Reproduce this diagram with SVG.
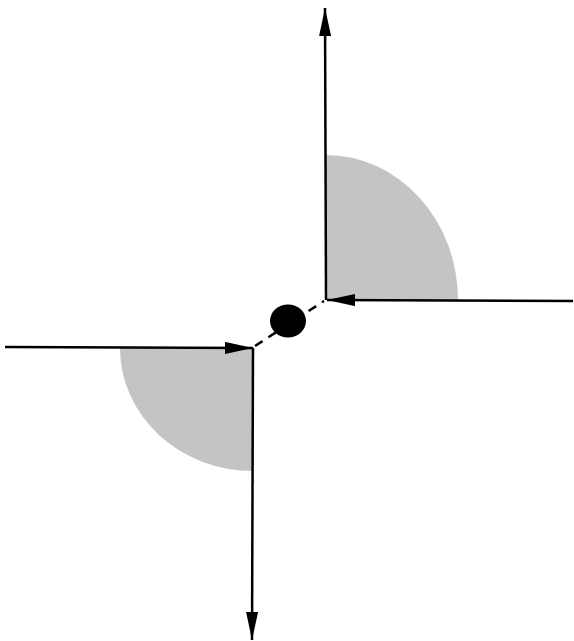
<svg xmlns="http://www.w3.org/2000/svg" width="574" height="641" viewBox="0 0 574 641">
<style>
.shade{fill:#c4c4c4;stroke:none}
.axis{stroke:#000;stroke-width:2.5;fill:none}
.dash{stroke:#000;stroke-width:2.5;stroke-dasharray:9 7;fill:none}
</style>
<defs>
<marker id="ah" markerUnits="userSpaceOnUse" markerWidth="30" markerHeight="14" refX="28" refY="6" orient="auto">
<path d="M0,0 L28,6 L0,12 Z" fill="#000"/>
</marker>
</defs>
<rect width="574" height="641" fill="#fff"/>
<g id="shade-upper">
<path class="shade" d="M326,300 L326,155 A132,145 0 0 1 458,300 Z"/>
</g>
<g id="shade-lower">
<path class="shade" d="M253,348 L120,348 A133,123 0 0 0 253,471 Z"/>
</g>
<g id="connectors">
<line class="axis" x1="326" y1="300" x2="325" y2="8" marker-end="url(#ah)"/>
<line class="axis" x1="573" y1="301" x2="327" y2="300" marker-end="url(#ah)"/>
<line class="axis" x1="5" y1="347" x2="253" y2="348" marker-end="url(#ah)"/>
<line class="axis" x1="253" y1="348" x2="252" y2="640" marker-end="url(#ah)"/>
<line class="dash" x1="255" y1="346" x2="324" y2="301"/>
</g>
<g id="point">
<ellipse cx="288" cy="321" rx="18" ry="16.5" fill="#000"/>
</g>
</svg>
